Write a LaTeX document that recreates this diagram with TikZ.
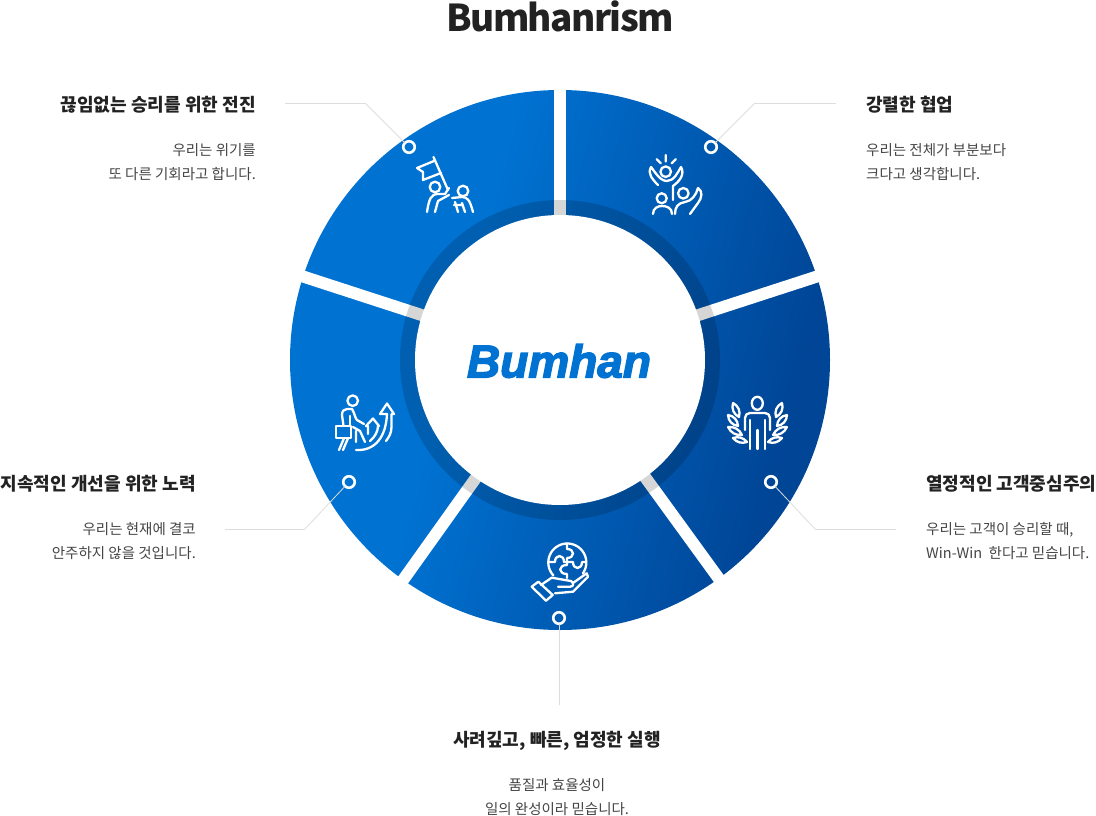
\documentclass[tikz,border=0pt]{standalone}
\usepackage{fontspec}
\setmainfont{Noto Sans CJK KR}
\newfontfamily\titlefont[LetterSpace=-4.3]{Noto Sans CJK KR}
\newfontfamily\logofont[FakeBold=3]{Liberation Sans Bold Italic}
\usetikzlibrary{positioning}
\definecolor{ringleft}{HTML}{0072D2}
\definecolor{ringright}{HTML}{004596}
\definecolor{headgray}{HTML}{222222}
\definecolor{bodygray}{HTML}{444444}
\definecolor{leadgray}{HTML}{DDDDDD}
\pgfdeclarehorizontalshading{ringblue}{100bp}{color(0bp)=(ringleft); color(25bp)=(ringleft); color(40bp)=(ringleft); color(72bp)=(ringright); color(100bp)=(ringright)}
\begin{document}
\begin{tikzpicture}[x=1pt,y=-1pt,
        headtext/.style={text=headgray,inner sep=0pt,font=\fontsize{18.05}{24}\selectfont\bfseries},
        bodytext/.style={text=bodygray,inner sep=0pt,font=\fontsize{14.5}{24}\selectfont},
        dot/.style={circle,draw=white,line width=2.6pt,minimum size=11.5pt,inner sep=0pt,outer sep=0pt},
        leader/.style={draw=leadgray,line width=.8pt},
        icon/.style={draw=white,line width=2.3pt,line cap=round,line join=round}]
    \useasboundingbox (0,0) rectangle (1096,816);
    \coordinate (hub) at (560,360);
    \shade[shading=ringblue,shading angle=-15] (hub) circle (270);
    \foreach \a in {-90,-18,54,125.5,198}
        \draw[white,line width=12pt] (hub) -- ++(\a:285);
    \fill[black,opacity=.16] (hub) circle (160);
    \fill[white] (hub) circle (145);

    \node (title) at (560,16) [inner sep=0pt,text=headgray,font=\titlefont\fontsize{37}{40}\selectfont\bfseries] {Bumhanrism};
    \node (logo) at (559,361) [inner sep=0pt,text=ringleft,font=\logofont\fontsize{46}{46}\selectfont] {Bumhan};

    \node[headtext,anchor=east] (h_flag) at (256,105) {끊임없는 승리를 위한 전진};
    \node[bodytext,align=right] (b_flag) [below=57pt of h_flag.east,anchor=east] {우리는 위기를\\또 다른 기회라고 합니다.};
    \node[headtext,anchor=west] (h_team) at (866,105) {강렬한 협업};
    \node[bodytext,align=left]  (b_team) [below=57pt of h_team.west,anchor=west] {우리는 전체가 부분보다\\크다고 생각합니다.};
    \node[headtext,anchor=west] (h_cust) at (926,484) {열정적인 고객중심주의};
    \node[bodytext,align=left]  (b_cust) [below=57pt of h_cust.west,anchor=west] {우리는 고객이 승리할 때,\\Win-Win\ \ 한다고 믿습니다.};
    \node[headtext] (h_exec) at (557,741) {사려깊고, 빠른, 엄정한 실행};
    \node[bodytext,align=center] (b_exec) [below=56pt of h_exec.center,anchor=center] {품질과 효율성이\\일의 완성이라 믿습니다.};
    \node[headtext,anchor=east] (h_grow) at (196,484) {지속적인 개선을 위한 노력};
    \node[bodytext,align=right] (b_grow) [below=57pt of h_grow.east,anchor=east] {우리는 현재에 결코\\안주하지 않을 것입니다.};

    \node[dot] (d_flag) at (409,147) {};
    \node[dot] (d_team) at (711,147) {};
    \node[dot] (d_cust) at (771,482) {};
    \node[dot] (d_exec) at (559,618) {};
    \node[dot] (d_grow) at (349,482) {};
    \coordinate (e_flag) at (285,103);
    \coordinate (k_flag) at (365,103);
    \coordinate (e_team) at (836,103);
    \coordinate (k_team) at (755,103);
    \coordinate (e_cust) at (896,529);
    \coordinate (k_cust) at (815,529);
    \coordinate (e_exec) at (559,705);
    \coordinate (e_grow) at (225,529);
    \coordinate (k_grow) at (305,529);
    \path[leader]
    (e_flag) edge (k_flag)
    (k_flag) edge (d_flag)
    (e_team) edge (k_team)
    (k_team) edge (d_team)
    (e_cust) edge (k_cust)
    (k_cust) edge (d_cust)
    (e_exec) edge (d_exec)
    (e_grow) edge (k_grow)
    (k_grow) edge (d_grow)
    ;

    \draw[icon] (433.5,157) -- (448,190);
    \draw[icon] (434,161) -- (417,168) -- (423,172) -- (423,180) -- (441,173);
    \draw[icon] (435,187) circle (5.3);
    \draw[icon] (427,212) .. controls (429,199) and (431,194) .. (438,194) -- (445,194) -- (449,188);
    \draw[icon] (449,195) -- (438,201) -- (435,212);
    \draw[icon] (463,191) circle (5.3);
    \draw[icon] (473,212) .. controls (470,201) and (468,197) .. (462,197) -- (452,198);
    \draw[icon] (455,202) -- (458,212) (462,203) -- (465,212) (454,205) -- (462,205);

    \draw[icon] (665.7,171.7) circle (5.3);
    \draw[icon] (665.7,155) -- (665.7,161.5) (656.7,159.3) -- (660.7,163.3) (675.7,159.3) -- (671.7,163.3);
    \draw[icon] (658,185) .. controls (653,180) and (647,174) .. (651,167) .. controls (655,172) and (660,181) .. (667,181) .. controls (674,181) and (678,172) .. (681,167) .. controls (685,174) and (680,181) .. (673,186) -- (673,200);
    \draw[icon] (661.7,198.3) circle (5);
    \draw[icon] (653,214) .. controls (653,208) and (658,206) .. (662,206) .. controls (667,206) and (672,208) .. (672,214);
    \draw[icon] (683.3,193.3) circle (5.3);
    \draw[icon] (675,214) .. controls (675,207) and (678,203) .. (685,202) .. controls (692,201) and (696,195) .. (698,188) .. controls (703,191) and (702,198) .. (698,203) -- (690,214);

    \draw[icon] (757.3,403.3) ellipse (5.5 and 6.5);
    \draw[icon] (745,430) -- (745,418) .. controls (745,415) and (747,413) .. (750,413) -- (765,413) .. controls (768,413) and (770,415) .. (770,418) -- (770,430);
    \draw[icon] (750,420) -- (750,449) (765,420) -- (765,449) (757.5,430) -- (757.5,449);
    \foreach \s in {1,-1}
    {
        \draw[icon] ({757.5-\s*24.5},403) to[bend left=40] ({757.5-\s*18.5},417) to[bend left=40] ({757.5-\s*24.5},403);
        \draw[icon] ({757.5-\s*29.5},415) to[bend left=40] ({757.5-\s*19.5},426) to[bend left=40] ({757.5-\s*29.5},415);
        \draw[icon] ({757.5-\s*29.5},427) to[bend left=35] ({757.5-\s*15.5},435) to[bend left=35] ({757.5-\s*29.5},427);
        \draw[icon] ({757.5-\s*24.5},438) to[bend left=35] ({757.5-\s*10.5},442) to[bend left=35] ({757.5-\s*24.5},438);
    }

    \draw[icon,domain=137:395,samples=40,smooth] plot ({567.3+19*cos(\x)},{562.5+19*sin(\x)});
    \draw[icon] (548,562) -- (555,562) .. controls (555,554) and (564,554) .. (564,562) -- (567,562);
    \draw[icon] (567,543.5) -- (567,549) .. controls (575,549) and (575,558) .. (567,558) -- (567,562);
    \draw[icon] (567,562) -- (573,562) .. controls (573,570) and (582,570) .. (582,562) -- (586,562);
    \draw[icon] (567,562) -- (567,565) .. controls (558,565) and (558,574) .. (567,574) -- (567,578);
    \draw[icon] (531.7,586.7) -- (538.3,581.7) -- (552.7,595) -- (546,600.7) -- cycle;
    \draw[icon] (541,585) -- (551.7,577.7) -- (565,580) -- (571,581) .. controls (574,583) and (574,586.7) .. (570,586.7) -- (558,586.7);
    \draw[icon] (573,583) -- (586.7,573.3) -- (588,576.7) -- (573,591.7) -- (555,593.3);

    \draw[icon] (352.7,400.7) circle (5.3);
    \draw[icon] (343.5,426) -- (342,415) .. controls (342,411) and (344,409) .. (347,409) -- (352,409) .. controls (355,414) and (355,418) .. (357,420) -- (364,424);
    \draw[icon] (350,416) -- (350,426);
    \draw[icon] (353,427) -- (360,431) -- (365,442) (356,431) -- (356,442);
    \draw[icon] (336,426) rectangle (350.7,438.3);
    \draw[icon] (348,438.3) -- (343,450) (344,438.3) -- (339,450);
    \draw[icon] (356,450) .. controls (376,451) and (386,436) .. (387,414) -- (380,414) -- (387,403.5) -- (394,414) -- (391.5,414) -- (391.5,427) .. controls (391.5,433) and (389,437) .. (386,441);
    \draw[icon] (368,434) -- (368,426) -- (366,426) -- (373,418.5) -- (379,426) -- (378,426) .. controls (378,431) and (375,437) .. (370,441);
\end{tikzpicture}
\end{document}
